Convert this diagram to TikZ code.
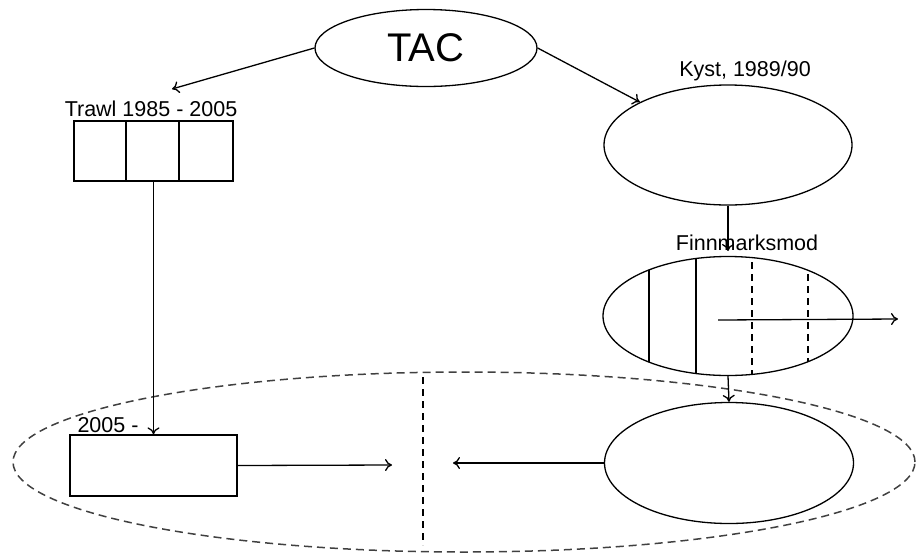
\documentclass[tikz,border=0pt]{standalone}
\usepackage{fontspec}
\setmainfont{Liberation Sans}
\usetikzlibrary{shapes.geometric,arrows.meta}

\begin{document}
\begin{tikzpicture}[x=1pt,y=-1pt,
    blob/.style={shape=ellipse,draw=black,line width=1.3pt,inner sep=0pt},
    cell/.style={shape=rectangle,draw=black,line width=1.3pt,inner sep=0pt},
    lbl/.style={font=\fontsize{21.5}{24}\selectfont,inner sep=0pt},
    flow/.style={-{To[length=7pt,width=12pt]},line width=1.3pt},
    dashline/.style={draw=black!75,line width=1.5pt,dash pattern=on 8pt off 5pt}]
    \useasboundingbox (0,0) rectangle (920,555);
    % nodes
    \node[blob,minimum width=222,minimum height=77,font=\fontsize{40}{44}\selectfont] (tac) at (426,48) {TAC};
    \node[blob,minimum width=248,minimum height=120] (kyst) at (728,145) {};
    \node[blob,minimum width=250,minimum height=119] (finn) at (728,316) {};
    \node[blob,minimum width=249,minimum height=121] (sea) at (729,463) {};
    \node[cell,minimum width=159,minimum height=60] (trawl) at (153.5,151) {};
    \node[cell,minimum width=167,minimum height=61] (new) at (153.5,465.5) {};
    \node[blob,dashline,minimum width=902,minimum height=180] (pool) at (464,462) {};
    % labels
    \node[lbl] (trawllbl) at (151,109) {Trawl 1985 - 2005};
    \node[lbl] (kystlbl) at (745,71) {Kyst, 1989/90};
    \node[lbl] (finnlbl) at (747,243) {Finnmarksmod};
    \node[lbl] (newlbl) at (108,425) {2005 -};
    % cells of the trawl box
    \draw[line width=1.3pt] (126,121) -- (126,181);
    \draw[line width=2.6pt] (179,121) -- (179,181);
    % lines inside Finnmarksmod
    \begin{scope}
        \clip (finn.center) ellipse [x radius=125,y radius=59.5];
        \draw[line width=1.3pt] (649,250) -- (649,380);
        \draw[line width=1.3pt] (696,250) -- (696,380);
        \draw[line width=1.3pt,dash pattern=on 7pt off 5pt] (752,250) -- (752,380);
        \draw[line width=1.3pt,dash pattern=on 7pt off 5pt] (808,250) -- (808,380);
    \end{scope}
    % divider of the pool
    \coordinate (divtop) at (423,377);
    \coordinate (divbot) at (423,545);
    \draw[line width=1.3pt,dash pattern=on 7pt off 5pt] (divtop) -- (divbot);
    % free ends
    \coordinate (trawlend) at (172,89);
    \coordinate (kystend) at (728,251);
    \coordinate (outstart) at (718,320);
    \coordinate (outend) at (898,319);
    \coordinate (newend) at (392,465);
    \coordinate (seaend) at (453,463);
    % arrows
    \draw[flow] (tac.west) -- (trawlend);
    \draw[flow] (tac.east) -- (kyst.north west);
    \draw[flow] (trawl.south) -- (new.north);
    \draw[flow] (kyst.south) -- (kystend);
    \draw[flow] (finn.south) -- (sea.north);
    \draw[flow] (outstart) -- (outend);
    \draw[flow] (new.east) -- (newend);
    \draw[flow] (sea.west) -- (seaend);
\end{tikzpicture}
\end{document}
